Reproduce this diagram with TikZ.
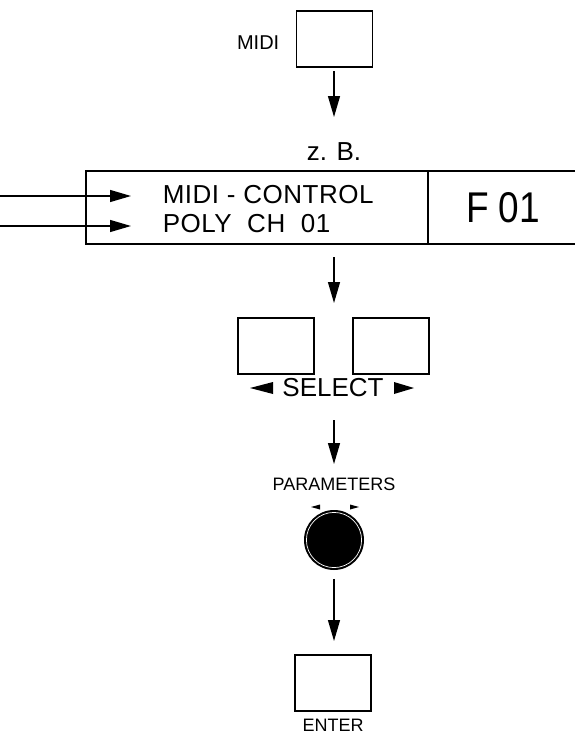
\documentclass[tikz,border=0pt]{standalone}
\usepackage{graphicx}
\usepackage{fontspec}
\setmainfont{Liberation Sans}
\usetikzlibrary{arrows.meta}
\begin{document}
\begin{tikzpicture}[x=1pt,y=-1pt,
  line width=1.5pt,
  key/.style={draw,line width=1.5pt,minimum width=76pt,minimum height=56pt,inner sep=0pt},
  flow/.style={-{Triangle[length=21pt,width=12pt]},line width=1.3pt},
  lbl/.style={inner sep=0pt,font=\fontsize{#1}{#1}\selectfont},
]
\useasboundingbox (0,0) rectangle (574,736);
% MIDI key
\node[key] (midi) at (334.5,39) {};
\node[lbl=20,anchor=east] (midilbl) at (280,43) {MIDI};
\coordinate (a1s) at (334,71);
\coordinate (a1e) at (334,117);
\draw[flow] (a1s) -- (a1e);
\node[lbl=26] (zb) at (334,152) {z. B.};
% display
\coordinate (dtl) at (86,171);
\coordinate (dbl) at (86,244);
\coordinate (dtr) at (575,171);
\coordinate (dbr) at (575,244);
\coordinate (divt) at (428,171);
\coordinate (divb) at (428,244);
\draw (dtr) -- (dtl) -- (dbl) -- (dbr);
\draw (divt) -- (divb);
\node[lbl=26,anchor=west] (l1) at (162,195) {\addfontfeature{LetterSpace=2}MIDI - CONTROL};
\node[lbl=26,anchor=west] (l2) at (162,224) {\addfontfeature{LetterSpace=2}POLY\ \ CH\ \ 01};
\node[lbl=43] (f01) at (503,208) {\scalebox{0.86}[1]{F 01}};
\coordinate (i1s) at (0,196);
\coordinate (i1e) at (131,196);
\coordinate (i2s) at (0,226);
\coordinate (i2e) at (131,226);
\draw[flow] (i1s) -- (i1e);
\draw[flow] (i2s) -- (i2e);
% arrow to select
\coordinate (a2s) at (334,257);
\coordinate (a2e) at (334,303);
\draw[flow] (a2s) -- (a2e);
% select keys
\node[key] (sl) at (276,346) {};
\node[key] (sr) at (391,346) {};
\node[lbl=26] (sel) at (333,388) {SELECT};
\fill (250,388) -- (273,382) -- (273,394) -- cycle;
\fill (414,388) -- (394,382) -- (394,394) -- cycle;
% arrow to parameters
\coordinate (a3s) at (334,420);
\coordinate (a3e) at (334,464);
\draw[flow] (a3s) -- (a3e);
\node[lbl=18] (par) at (334,484) {PARAMETERS};
\fill (311,507) -- (320,504.5) -- (320,509.5) -- cycle;
\fill (359,507) -- (350,504.5) -- (350,509.5) -- cycle;
% knob
\node[circle,fill=black,minimum size=60pt,inner sep=0pt] (knob) at (334,540) {};
\draw[white,line width=0.7pt] (knob.center) circle (27.6pt);
\coordinate (a4e) at (334,641);
\draw[flow] (knob.south) ++(0,8) -- (a4e);
% enter
\node[key] (enter) at (333,683) {};
\node[lbl=18] (ent) at (333,725.5) {ENTER};
\end{tikzpicture}
\end{document}
